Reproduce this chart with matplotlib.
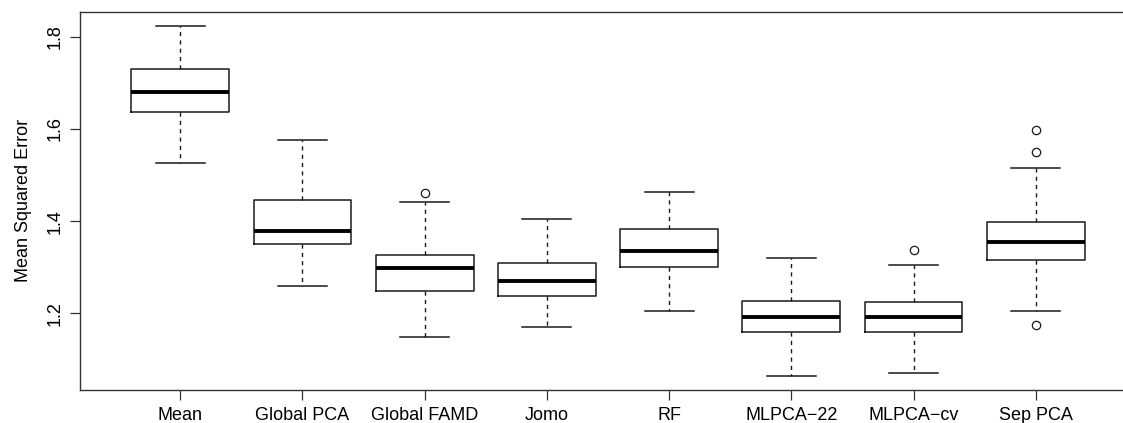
import matplotlib
matplotlib.use("Agg")
import matplotlib.pyplot as plt

plt.rcParams['font.family'] = ['Liberation Sans', 'DejaVu Sans']

# 数据
methods = ["Mean", "Global PCA", "Global FAMD", "Jomo", "RF",
           "MLPCA\u221222", "MLPCA\u2212cv", "Sep PCA"]
whislo = [1.527, 1.259, 1.149, 1.170, 1.206, 1.064, 1.071, 1.206]
q1 = [1.637, 1.351, 1.248, 1.238, 1.300, 1.159, 1.159, 1.316]
med = [1.680, 1.379, 1.298, 1.271, 1.335, 1.191, 1.191, 1.354]
q3 = [1.729, 1.446, 1.327, 1.309, 1.382, 1.226, 1.224, 1.397]
whishi = [1.824, 1.577, 1.441, 1.405, 1.464, 1.321, 1.304, 1.515]
fliers = [[], [], [1.461], [], [], [], [1.337], [1.598, 1.551, 1.174]]

stats = []
for i in range(len(methods)):
    stats.append(dict(label=methods[i], whislo=whislo[i], q1=q1[i], med=med[i],
                      q3=q3[i], whishi=whishi[i], fliers=fliers[i]))

fig = plt.figure(figsize=(11.23, 4.23), dpi=100)
# 右边框被裁掉，和原图一样
ax = fig.add_axes([80/1123, 33/423, 1056/1123, 378.3/423])

lc = "#1a1a1a"
ax.bxp(stats, positions=range(1, 9), widths=0.8, showfliers=True,
       boxprops=dict(color=lc, linewidth=1.1),
       medianprops=dict(color="black", linewidth=2.8, solid_capstyle="butt"),
       whiskerprops=dict(color=lc, linewidth=1.0, linestyle=(0, (3, 3))),
       capprops=dict(color=lc, linewidth=1.1),
       capwidths=0.4,
       flierprops=dict(marker="o", markerfacecolor="none", markeredgecolor=lc,
                       markersize=6, markeredgewidth=0.9))

ax.set_xlim(0.18, 8.82)
ax.set_ylim(1.0336, 1.8543)
ax.set_yticks([1.2, 1.4, 1.6, 1.8])
ax.set_yticklabels(["1.2", "1.4", "1.6", "1.8"], rotation=90, va="center")
ax.tick_params(axis="both", labelsize=13, length=7, width=0.9, color="#333333", pad=5)
ax.set_xticks(range(1, 9))
ax.set_xticklabels(methods)
ax.set_ylabel("Mean Squared Error", fontsize=13, labelpad=10)
for s in ax.spines.values():
    s.set_linewidth(1.0)
    s.set_color("#333333")

fig.savefig("out.png", dpi=100)
